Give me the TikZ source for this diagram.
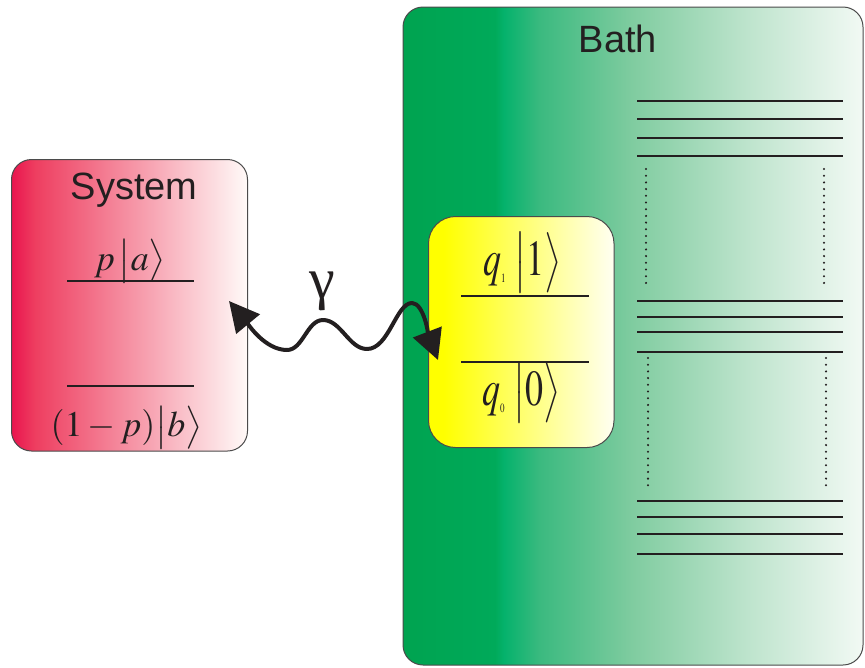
\documentclass[tikz,border=0pt]{standalone}
\usepackage{mathptmx}
\usepackage[no-math]{fontspec}
\newfontfamily\hv{Liberation Sans}
\newfontfamily\tnr{Liberation Serif}
\usetikzlibrary{arrows.meta}
\definecolor{ink}{RGB}{35,31,32}
\definecolor{edge}{RGB}{75,75,75}
\definecolor{sysA}{RGB}{233,20,78}
\definecolor{sysB}{RGB}{238,62,96}
\definecolor{sysC}{RGB}{255,250,248}
\definecolor{bathA}{RGB}{0,163,80}
\definecolor{bathB}{RGB}{0,170,90}
\definecolor{bathC}{RGB}{5,178,108}
\definecolor{bathD}{RGB}{60,186,128}
\definecolor{bathE}{RGB}{128,204,160}
\definecolor{bathF}{RGB}{190,228,205}
\definecolor{bathG}{RGB}{242,249,244}
\definecolor{yelA}{RGB}{255,255,0}
\definecolor{yelC}{RGB}{255,255,242}
\pgfdeclareverticalshading{sysshade}{100bp}{color(0bp)=(sysC); color(25bp)=(sysC); color(70bp)=(sysB); color(75bp)=(sysA); color(100bp)=(sysA)}
\pgfdeclareverticalshading{bathshade}{100bp}{color(0bp)=(bathG); color(25bp)=(bathG); color(37.5bp)=(bathF); color(50bp)=(bathE); color(60bp)=(bathD); color(64bp)=(bathC); color(65bp)=(bathB); color(75bp)=(bathA); color(100bp)=(bathA)}
\pgfdeclareverticalshading{yelshade}{100bp}{color(0bp)=(yelC); color(25bp)=(yelC); color(71bp)=(yelA); color(75bp)=(yelA); color(100bp)=(yelA)}
\tikzset{
  box/.style={draw=edge, line width=1pt, shade, shading angle=90, inner sep=0pt},
  title/.style={anchor=base, text=ink, font=\hv\fontsize{38}{40}\selectfont},
  mth/.style={anchor=base, text=ink, font=\fontsize{36}{40}\selectfont},
  level/.style={draw=ink, line width=1.8pt},
  dotv/.style={draw=ink, line width=2.3pt, line cap=round, dash pattern=on 0pt off 6.7pt},
  wave/.style={draw=ink, line width=4pt, {Triangle[length=30pt,width=30pt]}-{Triangle[length=30pt,width=30pt]}}
}
\begin{document}
\begin{tikzpicture}[x=1pt, y=-1pt, line join=round]
\useasboundingbox (0,0) rectangle (865,667);
% boxes
\node[box, shading=sysshade, rounded corners=20pt, minimum width=236pt, minimum height=291.5pt] (sys) at (129.5,305.25) {};
\node[box, shading=bathshade, rounded corners=20pt, minimum width=460pt, minimum height=658pt] (bath) at (633,336) {};
\node[box, shading=yelshade, rounded corners=27pt, minimum width=185.5pt, minimum height=231pt] (qubit) at (521.25,332) {};
% titles
\node[title] (systxt) at (134,199) {System};
\node[title] (bathtxt) at (618,52) {Bath};
% system levels
\node[mth] (pa) at (130,270) {$p\,\bigl|a\bigr\rangle$};
\draw[level] (67,281) -- (194,281);
\draw[level] (67,386) -- (194,386);
\node[mth] (pb) at (126.5,436.7) {$(1-p)\bigl|b\bigr\rangle$};
% qubit levels
\node[mth] (q1) at (522,275) {\scalebox{1}[1.4]{$q_{\mbox{\fontsize{9}{9}\selectfont$1$}}\;\bigl|1\bigr\rangle$}};
\draw[level] (461,296) -- (589,296);
\draw[level] (461,362) -- (589,362);
\node[mth] (q0) at (521,405) {\scalebox{1}[1.4]{$q_{\mbox{\fontsize{9}{9}\selectfont$0$}}\;\bigl|0\bigr\rangle$}};
% bath levels
\foreach \y in {101,119.3,137.7,156,300.7,316.7,332.3,351.7,501,517,534.3,553.7}
  \draw[level] (637,\y) -- (843,\y);
\draw[dotv] (646,169) -- (646,286);
\draw[dotv] (824,169) -- (824,286);
\draw[dotv] (648,358) -- (648,487);
\draw[dotv] (826,358) -- (826,487);
% coupling
\node[text=ink, font=\tnr\fontsize{58}{60}\selectfont, inner sep=0pt] (gam) at (322,291) {γ};
\coordinate (gL) at (229,301);
\coordinate (gR) at (438,360);
\draw[wave] (gL) .. controls (248,324) and (265,350) .. (287,350) .. controls (303,350) and (307,320) .. (323,320) .. controls (341,320) and (349,349) .. (367,349) .. controls (389,349) and (396,303) .. (412,303) .. controls (424,303) and (429,336.5) .. (gR);
\end{tikzpicture}
\end{document}
